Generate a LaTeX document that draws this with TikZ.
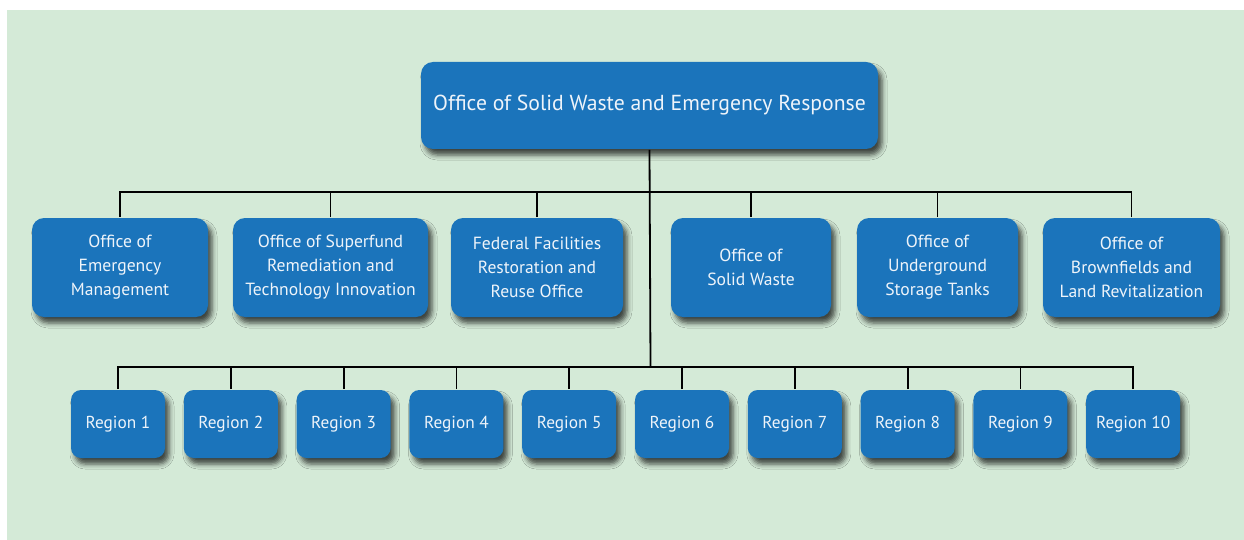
\documentclass[tikz,border=0pt]{standalone}
\usepackage{fontspec}
\setmainfont{PT Sans}
\usetikzlibrary{shadows.blur}
\definecolor{bggreen}{HTML}{D4EAD7}
\definecolor{boxblue}{HTML}{1B74BB}
\definecolor{boxtext}{HTML}{EEF4FA}
\begin{document}
\begin{tikzpicture}[x=1pt, y=-1pt, line width=1.8pt,
  box/.style={rounded corners=12pt, fill=boxblue, text=boxtext, align=center, inner sep=0pt,
    blur shadow={shadow xshift=4pt, shadow yshift=-6pt, shadow blur radius=5pt, shadow opacity=70}},
  top node/.style={box, minimum width=457pt, minimum height=87pt, font=\fontsize{21.7}{25}\selectfont},
  office node/.style={box, minimum height=99pt, font=\fontsize{17.6}{24}\selectfont},
  region node/.style={box, rounded corners=10pt, minimum width=94pt, minimum height=68pt, font=\fontsize{17.3}{20}\selectfont}]
\useasboundingbox (0,0) rectangle (1244,540);
\fill[bggreen] (7,10) rectangle (1244,540);
\begin{scope}
\node[top node] (top) at (649.5,105.5) {Office of Solid Waste and Emergency Response};
\node[office node, minimum width=176pt] (o1) at (120,267.5) {Office of\\Emergency\\Management};
\node[office node, minimum width=195pt] (o2) at (330.5,267.5) {Office of Superfund\\Remediation and\\Technology Innovation};
\node[office node, minimum width=172pt] (o3) at (537,267.5) {Federal Facilities\\Restoration and\\Reuse Office};
\node[office node, minimum width=160pt] (o4) at (751,267.5) {Office of\\Solid Waste};
\node[office node, minimum width=161pt] (o5) at (937.5,267.5) {Office of\\Underground\\Storage Tanks};
\node[office node, minimum width=177pt] (o6) at (1131.5,267.5) {Office of\\Brownfields and\\Land Revitalization};
\foreach \i in {1,...,10}
  \node[region node] (r\i) at ({118+112.8*(\i-1)},424) {Region \i};
%\node[region node] (r) at (,) {};
\end{scope}
\begin{scope}
\coordinate (bus1) at (650.5,192);
\coordinate (bus2) at (650.5,367);
\draw (top.south) -- (bus2);
\foreach \i in {1,...,6}
  \draw (o\i.north) |- (bus1);
\foreach \i in {1,...,10}
  \draw (r\i.north) |- (bus2);
\end{scope}
\end{tikzpicture}
\end{document}
